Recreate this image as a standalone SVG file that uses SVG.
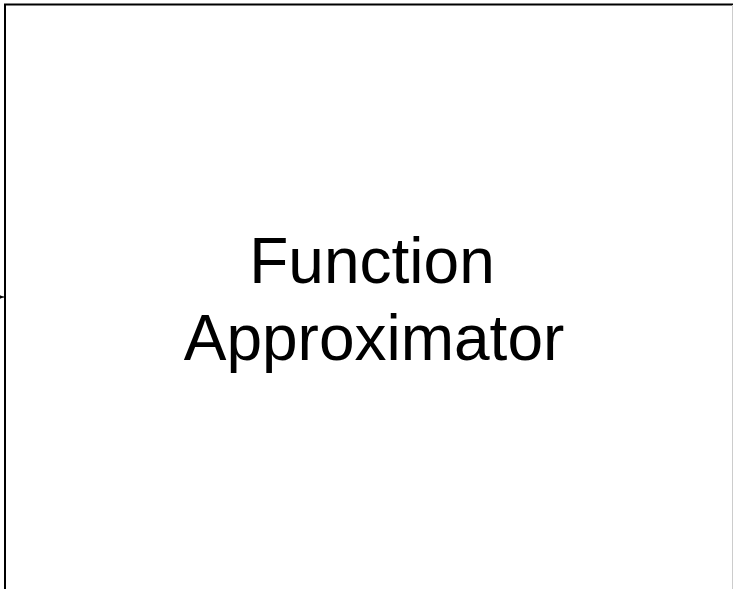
<svg xmlns="http://www.w3.org/2000/svg" width="733" height="589" viewBox="0 0 733 589">
<style>
.box{fill:#fff;stroke:#000;stroke-width:2}
.lbl{font-family:"Liberation Sans",Arial,sans-serif;font-size:64px;fill:#000;text-anchor:middle}
</style>
<defs>
<marker id="ah" markerWidth="8" markerHeight="8" refX="7" refY="4" orient="auto" markerUnits="userSpaceOnUse">
<path d="M0,1 L7,4 L0,7 Z" fill="#000"/>
</marker>
</defs>
<rect width="733" height="589" fill="#fff"/>
<g id="connectors">
<line x1="-20" y1="297" x2="4" y2="297" stroke="#000" stroke-width="1" marker-end="url(#ah)"/>
</g>
<g id="function-approximator">
<rect class="box" x="5" y="4.5" width="740" height="620"/>
<line x1="732.5" y1="5" x2="732.5" y2="589" stroke="#ccc" stroke-width="1"/>
<text class="lbl" x="372" y="283">Function</text>
<text class="lbl" x="374" y="360">Approximator</text>
</g>
</svg>
